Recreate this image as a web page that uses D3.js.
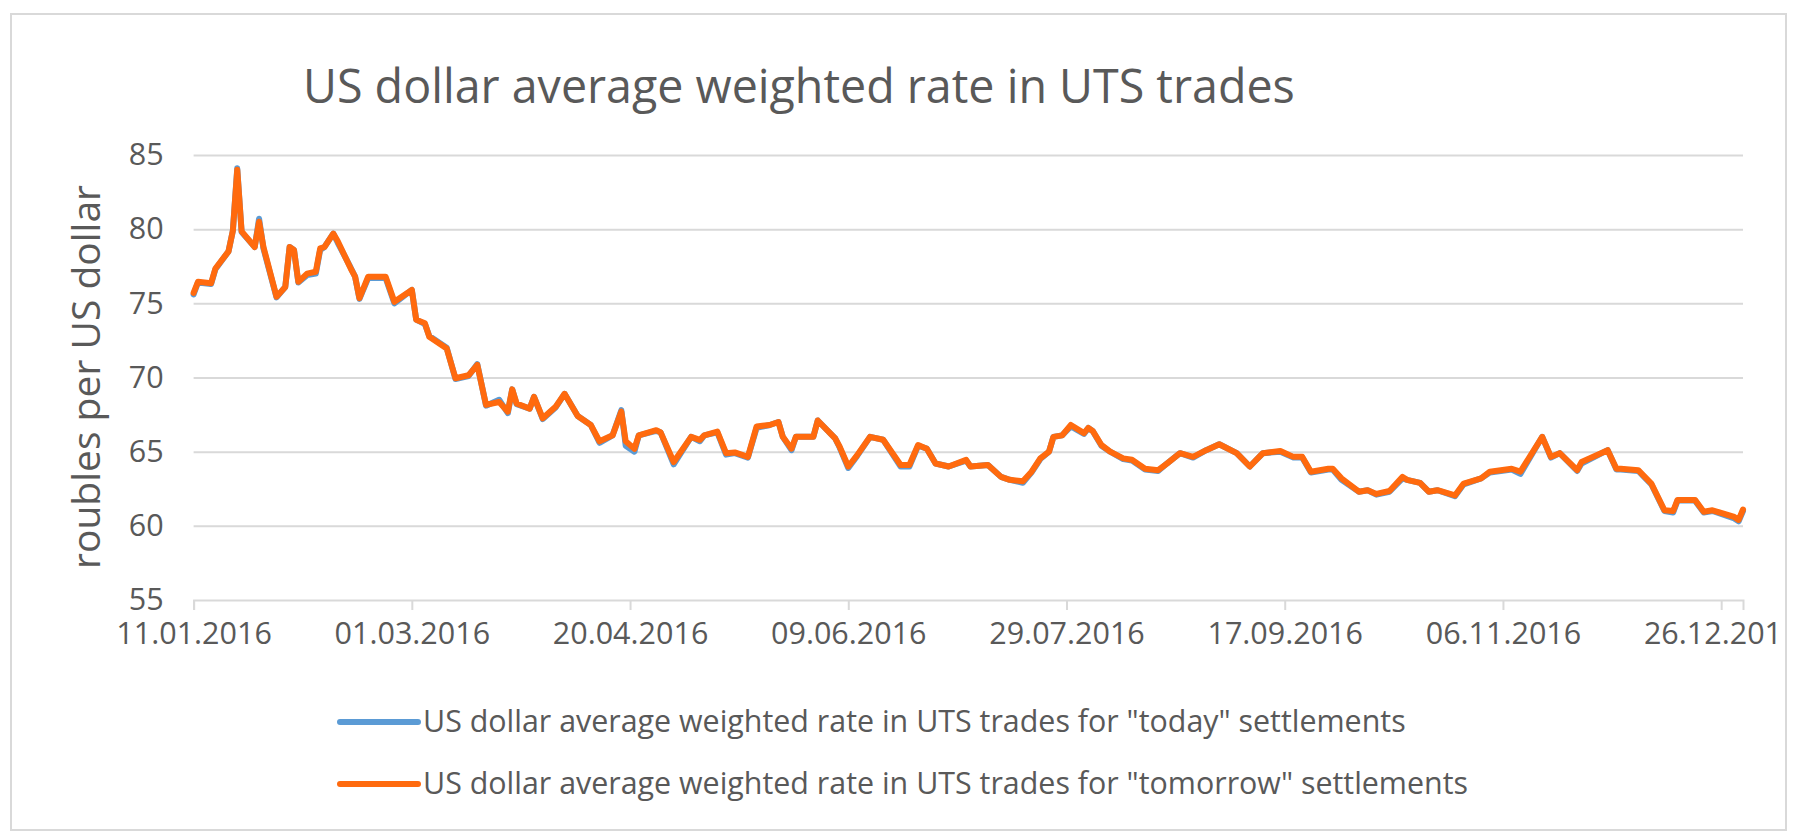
<!DOCTYPE html>
<html>
<head>
<meta charset="utf-8">
<script src="https://cdn.jsdelivr.net/npm/d3@7"></script>
<style>
  html, body { margin: 0; padding: 0; background: #ffffff; }
  svg { display: block; }
  text { font-family: "Open Sans", sans-serif; fill: #595959; }
</style>
</head>
<body>
<svg id="chart" width="1794" height="832"></svg>
<script>
// ---------------- data ----------------
const chartTitle = "US dollar average weighted rate in UTS trades";
const yAxisTitle = "roubles per US dollar";
const seriesNames = [
  'US dollar average weighted rate in UTS trades for "today" settlements',
  'US dollar average weighted rate in UTS trades for "tomorrow" settlements'
];
const seriesColors = ["#5b9bd5", "#ff6a0e"];

const dates = [
  "2016-01-11","2016-01-12","2016-01-15","2016-01-16","2016-01-19","2016-01-20","2016-01-21","2016-01-22",
  "2016-01-25","2016-01-26","2016-01-27","2016-01-30","2016-02-01","2016-02-02","2016-02-03","2016-02-04",
  "2016-02-06","2016-02-08","2016-02-09","2016-02-10","2016-02-12","2016-02-13","2016-02-16","2016-02-17",
  "2016-02-18","2016-02-20","2016-02-24","2016-02-26","2016-03-01","2016-03-02","2016-03-04","2016-03-05",
  "2016-03-09","2016-03-11","2016-03-14","2016-03-16","2016-03-18","2016-03-21","2016-03-23","2016-03-24",
  "2016-03-25","2016-03-28","2016-03-29","2016-03-31","2016-04-03","2016-04-05","2016-04-08","2016-04-11",
  "2016-04-13","2016-04-16","2016-04-18","2016-04-19","2016-04-21","2016-04-22","2016-04-26","2016-04-27",
  "2016-04-30","2016-05-04","2016-05-06","2016-05-07","2016-05-10","2016-05-12","2016-05-14","2016-05-17",
  "2016-05-19","2016-05-22","2016-05-24","2016-05-25","2016-05-27","2016-05-28","2016-06-01","2016-06-02",
  "2016-06-06","2016-06-07","2016-06-09","2016-06-11","2016-06-14","2016-06-17","2016-06-21","2016-06-23",
  "2016-06-25","2016-06-27","2016-06-29","2016-07-02","2016-07-06","2016-07-07","2016-07-11","2016-07-14",
  "2016-07-16","2016-07-19","2016-07-21","2016-07-23","2016-07-25","2016-07-26","2016-07-28","2016-07-30",
  "2016-08-02","2016-08-03","2016-08-04","2016-08-06","2016-08-08","2016-08-11","2016-08-13","2016-08-16",
  "2016-08-19","2016-08-21","2016-08-24","2016-08-27","2016-08-30","2016-09-02","2016-09-06","2016-09-09",
  "2016-09-12","2016-09-16","2016-09-19","2016-09-21","2016-09-23","2016-09-27","2016-09-28","2016-09-30",
  "2016-10-04","2016-10-06","2016-10-08","2016-10-11","2016-10-14","2016-10-15","2016-10-18","2016-10-20",
  "2016-10-22","2016-10-26","2016-10-28","2016-11-01","2016-11-03","2016-11-08","2016-11-10","2016-11-15",
  "2016-11-17","2016-11-19","2016-11-23","2016-11-24","2016-11-30","2016-12-02","2016-12-03","2016-12-07",
  "2016-12-10","2016-12-13","2016-12-15","2016-12-16","2016-12-20","2016-12-22","2016-12-24","2016-12-29",
  "2016-12-30","2016-12-31"
];

const todayRate = [
  75.6,76.4,76.3,77.3,78.5,79.9,84.1,79.8,78.8,80.7,78.7,75.4,76.1,78.8,78.6,76.4,
  76.9,77.0,78.6,78.8,79.7,79.1,77.4,76.8,75.3,76.7,76.7,75.0,75.9,73.9,73.6,72.8,
  72.0,69.9,70.1,70.9,68.1,68.5,67.6,69.2,68.2,67.9,68.7,67.2,68.0,68.9,67.4,66.8,
  65.6,66.1,67.8,65.4,65.0,66.1,66.4,66.3,64.15,66.0,65.7,66.1,66.3,64.8,64.9,64.6,
  66.6,66.8,67.0,66.0,65.1,66.0,66.0,67.1,65.9,65.3,63.9,64.7,66.0,65.8,64.0,64.0,
  65.4,65.2,64.2,64.0,64.4,64.0,64.1,63.3,63.1,62.9,63.6,64.5,65.0,66.0,66.1,66.7,
  66.2,66.6,66.4,65.4,65.0,64.5,64.4,63.8,63.7,64.2,64.9,64.6,65.1,65.5,64.9,64.0,
  64.9,65.0,64.6,64.6,63.6,63.8,63.8,63.1,62.3,62.4,62.1,62.3,63.2,63.1,62.9,62.3,
  62.4,62.0,62.8,63.2,63.6,63.8,63.5,66.0,64.6,64.9,63.7,64.2,65.1,63.8,63.8,63.7,
  62.8,61.0,60.9,61.7,61.7,60.9,61.0,60.5,60.3,61.0
];

const tomorrowRate = [
  75.7,76.45,76.35,77.35,78.5,79.9,84.0,79.85,78.8,80.5,78.8,75.45,76.1,78.8,78.6,76.45,
  77.0,77.13,78.7,78.8,79.7,79.2,77.35,76.8,75.35,76.8,76.8,75.1,75.9,73.9,73.65,72.75,
  71.95,69.95,70.15,70.85,68.15,68.35,67.7,69.2,68.25,67.9,68.7,67.25,68.05,68.9,67.4,66.8,
  65.7,66.1,67.7,65.7,65.2,66.1,66.45,66.3,64.3,66.0,65.8,66.1,66.35,64.9,64.95,64.65,
  66.7,66.8,67.0,66.0,65.2,66.0,66.0,67.1,65.9,65.35,64.0,64.75,66.0,65.8,64.1,64.1,
  65.45,65.2,64.2,64.0,64.45,64.0,64.1,63.3,63.1,63.0,63.65,64.55,65.0,66.0,66.1,66.8,
  66.25,66.6,66.4,65.45,65.0,64.55,64.45,63.85,63.75,64.2,64.9,64.65,65.1,65.5,64.9,64.0,
  64.9,65.05,64.65,64.65,63.65,63.85,63.85,63.2,62.3,62.4,62.15,62.35,63.3,63.1,62.9,62.3,
  62.4,62.05,62.85,63.2,63.65,63.85,63.65,66.0,64.65,64.9,63.75,64.3,65.1,63.85,63.85,63.75,
  62.85,61.05,61.0,61.75,61.75,60.95,61.05,60.6,60.4,61.1
];

const xDomain = ["2016-01-11", "2016-12-31"];
const xTickLabels = ["11.01.2016","01.03.2016","20.04.2016","09.06.2016","29.07.2016","17.09.2016","06.11.2016","26.12.2016"];
const yTicks = [55, 60, 65, 70, 75, 80, 85];

// ---------------- layout ----------------
const svg = d3.select("#chart");
const W = 1794, H = 832;
const frame = {x: 11, y: 14, w: 1775, h: 816};
const plot = {left: 193.6, right: 1743, top: 155, bottom: 600};

const parseISO = d3.utcParse("%Y-%m-%d");
const parseTick = d3.utcParse("%d.%m.%Y");
const fmtTick = d3.utcFormat("%d.%m.%Y");

const x = d3.scaleUtc().domain(xDomain.map(parseISO)).range([plot.left, plot.right]);
const y = d3.scaleLinear().domain([55, 85]).range([plot.bottom, plot.top]);

svg.append("rect").attr("width", W).attr("height", H).attr("fill", "#ffffff");

const defs = svg.append("defs");
defs.append("clipPath").attr("id", "frameClip")
  .append("rect").attr("x", frame.x).attr("y", frame.y).attr("width", frame.w).attr("height", frame.h);
defs.append("clipPath").attr("id", "labelClip")
  .append("rect").attr("x", frame.x).attr("y", frame.y).attr("width", 1782 - frame.x).attr("height", frame.h);

const root = svg.append("g").attr("clip-path", "url(#frameClip)");

// grid lines
const grid = root.append("g")
  .attr("transform", `translate(${plot.left},0)`)
  .call(d3.axisLeft(y).tickValues(yTicks.filter(v => v !== 55)).tickSize(-(plot.right - plot.left)).tickFormat(""));
grid.select(".domain").remove();
grid.selectAll(".tick line").attr("stroke", "#d9d9d9").attr("stroke-width", 2);

// y tick labels
const yAxis = root.append("g")
  .attr("transform", `translate(${plot.left},0)`)
  .call(d3.axisLeft(y).tickValues(yTicks).tickSize(0).tickPadding(30));
yAxis.select(".domain").remove();
yAxis.selectAll("text")
  .attr("font-size", 30.5).attr("fill", "#595959").attr("font-family", "Open Sans, sans-serif");

// x axis
const xAxis = root.append("g")
  .attr("clip-path", "url(#labelClip)")
  .append("g")
  .attr("transform", `translate(0,${plot.bottom})`)
  .call(d3.axisBottom(x).tickValues(xTickLabels.map(parseTick)).tickFormat(fmtTick).tickSize(10).tickPadding(12));
xAxis.select(".domain").attr("stroke", "#d9d9d9").attr("stroke-width", 2);
xAxis.selectAll(".tick line").attr("stroke", "#d9d9d9").attr("stroke-width", 2);
xAxis.selectAll("text")
  .attr("font-size", 30.5).attr("fill", "#595959").attr("font-family", "Open Sans, sans-serif");

// lines
const seriesData = [todayRate, tomorrowRate].map(vals => dates.map((d, i) => ({date: parseISO(d), value: vals[i]})));
const line = d3.line().x(d => x(d.date)).y(d => y(d.value));

root.selectAll("path.series")
  .data(seriesData)
  .join("path")
  .attr("class", "series")
  .attr("d", line)
  .attr("fill", "none")
  .attr("stroke", (d, i) => seriesColors[i])
  .attr("stroke-width", 6)
  .attr("stroke-linejoin", "round")
  .attr("stroke-linecap", "round");

// title
root.append("text")
  .attr("x", 303).attr("y", 103)
  .attr("font-size", 46.6)
  .text(chartTitle);

// y axis title
root.append("text")
  .attr("transform", `translate(100,377) rotate(-90)`)
  .attr("text-anchor", "middle")
  .attr("font-size", 39)
  .text(yAxisTitle);

// legend
const legend = root.append("g");
const legendRows = [722, 784];
seriesNames.forEach((name, i) => {
  const g = legend.append("g").attr("transform", `translate(0,${legendRows[i]})`);
  g.append("line").attr("x1", 340).attr("x2", 418).attr("y1", 0).attr("y2", 0)
    .attr("stroke", seriesColors[i]).attr("stroke-width", 6).attr("stroke-linecap", "round");
  g.append("text").attr("x", 423).attr("y", 10).attr("font-size", 30.4).text(name);
});

// frame border
svg.append("rect")
  .attr("x", frame.x).attr("y", frame.y).attr("width", frame.w).attr("height", frame.h)
  .attr("fill", "none").attr("stroke", "#d9d9d9").attr("stroke-width", 2);
</script>
</body>
</html>
